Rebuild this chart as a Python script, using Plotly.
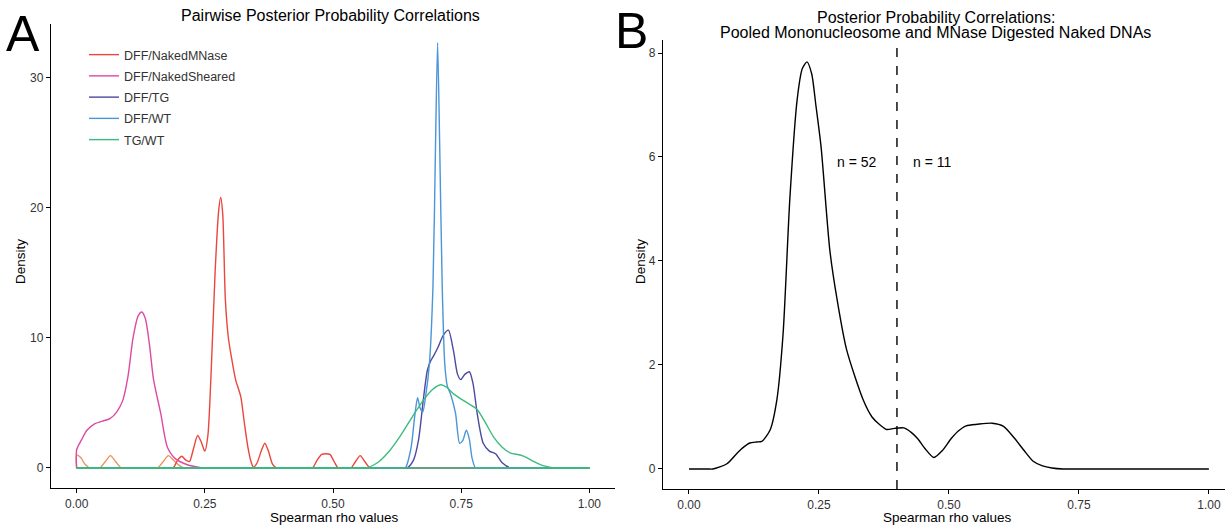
import plotly.graph_objects as go

# ---------------- Panel A data (Spearman rho vs density) ----------------
low_x = [0.0, 0.0, 0.008, 0.016, 0.025, 0.035, 0.045, 0.056, 0.066, 0.076, 0.087, 0.097, 0.148, 0.158,
         0.169, 0.179, 0.189, 0.2, 0.21, 0.22, 1.0]
low_y = [0, 1.0, 0.8, 0.3, 0, 0, 0, 0.5, 0.95, 0.5, 0, 0, 0, 0, 0.5, 0.95, 0.6, 0.2, 0, 0, 0]

mnase_x = [0.0, 0.01, 0.178, 0.188, 0.197, 0.205, 0.213, 0.22, 0.228, 0.236, 0.243, 0.25, 0.256, 0.263,
           0.27, 0.277, 0.281, 0.285, 0.29, 0.296, 0.302, 0.31, 0.32, 0.327, 0.334, 0.34, 0.345, 0.352,
           0.36, 0.367, 0.374, 0.382, 0.39, 0.40, 0.45, 0.46, 0.469, 0.478, 0.486, 0.494, 0.502, 0.51,
           0.52, 0.525, 0.535, 0.544, 0.553, 0.562, 0.572, 0.582, 1.0]
mnase_y = [0, 0, 0, 0, 0.6, 0.9, 0.6, 0.5, 1.5, 2.5, 2.0, 1.3, 2.5, 8.0, 15.0, 19.8, 20.8, 19.5, 13.0,
           10.0, 8.5, 6.8, 5.5, 3.5, 1.6, 0.5, 0.05, 0.4, 1.3, 1.9, 1.3, 0.3, 0, 0, 0, 0, 0.6, 1.05, 1.1,
           1.05, 0.5, 0, 0, 0, 0, 0.5, 0.95, 0.5, 0, 0, 0]

sheared_x = [0.0, 0.0, 0.01, 0.02, 0.035, 0.05, 0.065, 0.078, 0.09, 0.1, 0.11, 0.12, 0.127, 0.134,
             0.142, 0.15, 0.164, 0.177, 0.193, 0.216, 0.24, 0.255, 0.265, 1.0]
sheared_y = [0, 1.4, 2.2, 2.9, 3.4, 3.6, 3.8, 4.3, 5.2, 7.0, 10.0, 11.7, 12.0, 11.5, 9.5, 6.8, 4.2,
             1.6, 0.7, 0.25, 0.05, 0, 0, 0]

tg_x = [0.0, 0.01, 0.635, 0.645, 0.657, 0.667, 0.676, 0.684, 0.69, 0.696, 0.705, 0.715, 0.725, 0.735,
        0.743, 0.749, 0.757, 0.766, 0.773, 0.782, 0.793, 0.805, 0.817, 0.83, 0.846, 0.856, 1.0]
tg_y = [0, 0, 0, 0, 0.6, 2.2, 5.2, 7.5, 8.2, 8.6, 9.3, 10.2, 10.6, 9.0, 7.2, 6.8, 7.2, 7.4, 6.5, 4.0,
        1.9, 1.3, 1.1, 0.4, 0, 0, 0]

wt_x = [0.0, 0.01, 0.631, 0.641, 0.652, 0.66, 0.665, 0.67, 0.675, 0.681, 0.688, 0.695, 0.7, 0.704,
        0.708, 0.713, 0.718, 0.723, 0.73, 0.739, 0.747, 0.753, 0.76, 0.766, 0.771, 0.778, 0.788, 1.0]
wt_y = [0, 0, 0, 0, 1.5, 4.2, 5.4, 4.6, 4.3, 5.6, 8.0, 14.0, 25.0, 32.7, 25.0, 14.0, 8.0, 6.3, 5.6,
        4.2, 1.9, 2.1, 2.9, 2.2, 0.8, 0, 0, 0]

tgwt_x = [0.0, 0.01, 0.557, 0.567, 0.59, 0.612, 0.632, 0.651, 0.664, 0.676, 0.693, 0.71, 0.722, 0.735,
          0.758, 0.781, 0.797, 0.813, 0.83, 0.846, 0.865, 0.878, 0.891, 0.908, 0.925, 0.94, 0.95, 1.0]
tgwt_y = [0, 0, 0, 0, 0.5, 1.4, 2.5, 3.7, 4.5, 5.2, 6.0, 6.4, 6.2, 5.7, 5.1, 4.5, 3.5, 2.4, 1.6, 1.15,
          1.0, 0.8, 0.5, 0.2, 0.05, 0, 0, 0]

series_names = ["DFF/NakedMNase", "DFF/NakedSheared", "DFF/TG", "DFF/WT", "TG/WT"]
series_colors = ["#E8473E", "#DD4AA2", "#4B4A9E", "#4B95D8", "#3DBB7E"]
series_x = [mnase_x, sheared_x, tg_x, wt_x, tgwt_x]
series_y = [mnase_y, sheared_y, tg_y, wt_y, tgwt_y]
low_color = "#EE9060"

# ---------------- Panel B data ----------------
pooled_x = [0.0, 0.01, 0.036, 0.046, 0.073, 0.092, 0.105, 0.117, 0.13, 0.14, 0.156, 0.169, 0.181, 0.194,
            0.208, 0.218, 0.227, 0.236, 0.244, 0.254, 0.271, 0.285, 0.303, 0.335, 0.352, 0.367, 0.38,
            0.395, 0.413, 0.428, 0.44, 0.455, 0.471, 0.487, 0.504, 0.518, 0.533, 0.555, 0.583, 0.605,
            0.627, 0.645, 0.662, 0.68, 0.698, 0.72, 0.73, 1.0]
pooled_y = [0, 0, 0, 0, 0.1, 0.3, 0.42, 0.5, 0.52, 0.53, 0.75, 1.33, 2.6, 5.2, 7.1, 7.7, 7.83, 7.6, 7.0,
            6.2, 4.2, 3.25, 2.3, 1.33, 1.0, 0.85, 0.76, 0.78, 0.79, 0.7, 0.58, 0.38, 0.22, 0.35, 0.58,
            0.73, 0.83, 0.86, 0.88, 0.82, 0.58, 0.35, 0.15, 0.06, 0.02, 0, 0, 0]
cutoff = 0.40
n_labels = ["n = 52", "n = 11"]
n_label_x = [0.323, 0.468]
n_label_y = 5.9

tick_vals = [0.0, 0.25, 0.5, 0.75, 1.0]
tick_text = ["0.00", "0.25", "0.50", "0.75", "1.00"]

W, H = 1225, 525
FONT = "Liberation Sans, Arial, sans-serif"

fig = go.Figure()

fig.add_trace(go.Scatter(x=low_x, y=low_y, mode="lines",
                         line=dict(color=low_color, width=1.4, shape="spline", smoothing=0.7),
                         showlegend=False, hoverinfo="skip", xaxis="x", yaxis="y"))
for nm, col, xs, ys in zip(series_names, series_colors, series_x, series_y):
    fig.add_trace(go.Scatter(x=xs, y=ys, mode="lines", name=nm, legendgroup=nm,
                             line=dict(color=col, width=1.4, shape="spline", smoothing=0.7),
                             xaxis="x", yaxis="y"))

# closing baseline of the top-most density polygon (as ggplot draws it)
fig.add_trace(go.Scatter(x=[tgwt_x[0], tgwt_x[-1]], y=[0, 0], mode="lines", showlegend=False,
                         hoverinfo="skip", legendgroup=series_names[-1],
                         line=dict(color=series_colors[-1], width=1.4), xaxis="x", yaxis="y"))

fig.add_trace(go.Scatter(x=pooled_x, y=pooled_y, mode="lines", showlegend=False,
                         line=dict(color="black", width=1.4, shape="spline", smoothing=0.7),
                         xaxis="x2", yaxis="y2"))

axis_common = dict(showgrid=False, zeroline=False, showline=True, linecolor="black", linewidth=1.3,
                   ticks="outside", ticklen=4, tickcolor="black", tickwidth=1.1, automargin=False,
                   tickfont=dict(family=FONT, size=12, color="#333333"))


def px_x(p):
    return p / W


def px_y(p):
    return 1 - p / H


fig.update_layout(
    width=W, height=H,
    margin=dict(l=0, r=0, t=0, b=0, autoexpand=False),
    plot_bgcolor="white", paper_bgcolor="white",
    font=dict(family=FONT, color="black"),
    xaxis=dict(domain=[px_x(51), px_x(615)], range=[-0.05, 1.05], tickvals=tick_vals, ticktext=tick_text,
               anchor="y", **axis_common),
    yaxis=dict(domain=[px_y(488), px_y(24)], range=[-1.54, 34.15], tickvals=[0, 10, 20, 30], anchor="x",
               **axis_common),
    xaxis2=dict(domain=[px_x(663), 1.0], range=[-0.05, 1.031], tickvals=tick_vals, ticktext=tick_text,
                anchor="y2", **axis_common),
    yaxis2=dict(domain=[px_y(489), px_y(40)], range=[-0.385, 8.25], tickvals=[0, 2, 4, 6, 8], anchor="x2",
                **axis_common),
    legend=dict(x=px_x(84), y=px_y(40), xanchor="left", yanchor="top", bgcolor="rgba(0,0,0,0)",
                font=dict(family=FONT, size=12.5, color="#333333"), tracegroupgap=2, itemwidth=30),
    showlegend=True,
)

fig.add_shape(type="line", xref="x2", yref="paper", x0=cutoff, x1=cutoff, y0=px_y(489), y1=px_y(40),
              line=dict(color="black", width=1.4, dash="dash"))

for txt, xv in zip(n_labels, n_label_x):
    fig.add_annotation(x=xv, y=n_label_y, xref="x2", yref="y2", text=txt, showarrow=False,
                       xanchor="center", font=dict(family=FONT, size=14, color="black"))


def label(text, xp, yp, size, angle=0, anchor="center"):
    fig.add_annotation(x=px_x(xp), y=px_y(yp), xref="paper", yref="paper", text=text, showarrow=False,
                       xanchor=anchor, yanchor="middle", textangle=angle, borderpad=0,
                       font=dict(family=FONT, size=size, color="black"))


label("Pairwise Posterior Probability Correlations", 330, 15, 16)
label("Posterior Probability Correlations:", 936, 17, 16)
label("Pooled Mononucleosome and MNase Digested Naked DNAs", 936, 33, 16)
label("Spearman rho values", 334, 517, 13.5)
label("Spearman rho values", 948, 517, 13.5)
label("Density", 20, 262, 13.5, angle=-90)
label("Density", 640, 262, 13.5, angle=-90)
label("A", 5, 34, 50, anchor="left")
label("B", 614, 31, 50, anchor="left")

fig.write_html("out.html", config={"displayModeBar": False},
               post_script="document.body.style.margin='0';document.body.style.padding='0';")
